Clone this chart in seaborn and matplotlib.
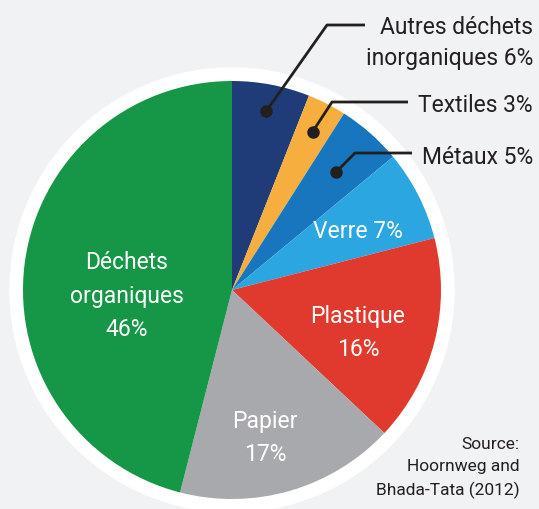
import seaborn as sns
import matplotlib.pyplot as plt
import numpy as np

sns.set_theme(style="white")
plt.rcParams['font.family'] = ['Roboto', 'DejaVu Sans']

# data, clockwise from the top
categories = ["Autres déchets\ninorganiques", "Textiles", "Métaux", "Verre",
              "Plastique", "Papier", "Déchets\norganiques"]
shares = [6, 3, 5, 7, 16, 17, 46]
colors = ["#1f3c78", "#f6ae3e", "#1776bd", "#2ca6e0", "#e03a2f", "#a8a9ac", "#169647"]

bg = "#f1f2f4"
fig = plt.figure(figsize=(5.39, 5.10), dpi=100)
fig.patch.set_facecolor(bg)
ax = fig.add_axes([0, 0, 1, 1])
ax.set_facecolor(bg)

cx, cy, r = 232, 219, 209

# white ring behind the pie
ax.pie([1], colors=["white"], center=(cx, cy), radius=r + 13, startangle=90)
wedges, _ = ax.pie(shares, colors=colors, startangle=90, counterclock=False,
                   center=(cx, cy), radius=r,
                   wedgeprops=dict(linewidth=0))

# angle (deg, matplotlib convention) of each wedge's middle
mids = [(w.theta1 + w.theta2) / 2 for w in wedges]

# outside labels with leader lines (first three small slices)
dot_frac = [0.87, 0.85, 0.75]
elbows = [(327, 484), (332, 407), (355, 356)]
ends = [(365, 484), (408, 407), (412, 356)]
text_y = [467, 404, 353]
for i in range(3):
    a = np.deg2rad(mids[i])
    px, py = cx + dot_frac[i] * r * np.cos(a), cy + dot_frac[i] * r * np.sin(a)
    ax.plot([px, elbows[i][0], ends[i][0]], [py, elbows[i][1], ends[i][1]],
            color="#231f20", lw=2, solid_capstyle="butt", zorder=5)
    ax.plot(px, py, "o", color="#231f20", ms=8, zorder=6)
    label = categories[i] + " " + str(shares[i]) + "%"
    ax.text(533, text_y[i], label, ha="right", va="center", fontsize=16.5,
            color="#231f20", linespacing=1.5)

# inside labels
inner_pos = {3: (358, 278), 4: (358, 177), 5: (265, 72), 6: (127, 214)}
for i, (x, y) in inner_pos.items():
    name = categories[i]
    if i == 3:
        label = name + " " + str(shares[i]) + "%"
    else:
        label = name + "\n" + str(shares[i]) + "%"
    ax.text(x, y, label, ha="center", va="center", fontsize=16.5,
            color="white", linespacing=1.6)

ax.text(520, 42, "Source:\nHoornweg and\nBhada-Tata (2012)", ha="right",
        va="center", fontsize=12.5, color="#231f20", linespacing=1.6)

ax.set_xlim(0, 539)
ax.set_ylim(0, 510)
ax.set_aspect("auto")
ax.axis("off")

fig.savefig("out.png", dpi=100, facecolor=bg)
